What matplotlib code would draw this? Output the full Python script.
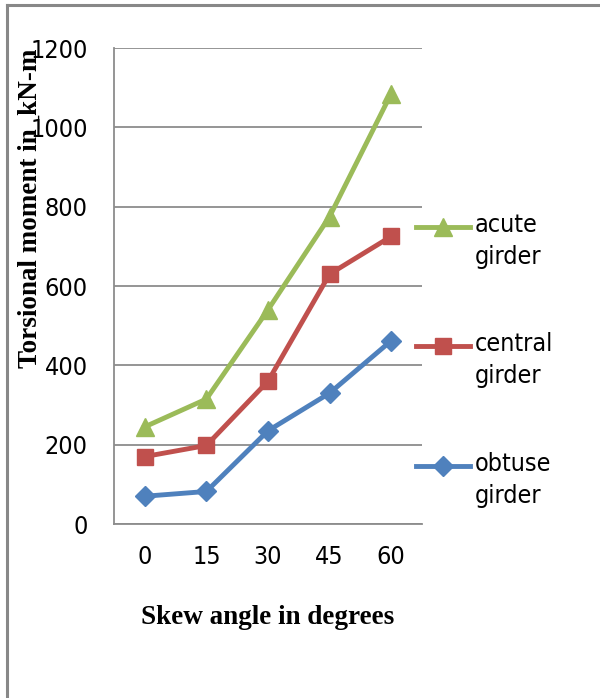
import matplotlib.pyplot as plt
import numpy as np

# skew angle categories and torsional moments (kN-m)
angles = ['0', '15', '30', '45', '60']
obtuse = [70, 82, 235, 330, 462]
central = [170, 198, 360, 630, 725]
acute = [245, 315, 540, 775, 1085]

W, H = 600, 698
fig = plt.figure(figsize=(W / 100, H / 100), dpi=100)
sans = dict(family='DejaVu Sans', stretch='condensed')

# outer frame (only top and left visible in the reference)
fig.add_artist(plt.Line2D([7 / W, 7 / W], [0, 1 - 5 / H], color='#888888', lw=2.2))
fig.add_artist(plt.Line2D([7 / W, 1], [1 - 5 / H, 1 - 5 / H], color='#888888', lw=2.2))

ax = fig.add_axes([114 / W, 1 - 524 / H, (422 - 114) / W, (524 - 48) / H])

x = np.arange(len(angles))
series = [
    ('acute\ngirder', acute, '#9BBB59', '^', 13, 227),
    ('central\ngirder', central, '#C0504D', 's', 12, 346),
    ('obtuse\ngirder', obtuse, '#4F81BD', 'D', 10, 466),
]
for label, vals, col, mk, ms, ly in series[::-1]:
    ax.plot(x, vals, color=col, lw=3.5, marker=mk, ms=ms)
    # legend entry: marker aligned with the first text line
    fig.add_artist(plt.Line2D([416 / W, 470 / W], [1 - ly / H] * 2, color=col, lw=3.5))
    fig.add_artist(plt.Line2D([443 / W], [1 - ly / H], color=col, marker=mk, ms=ms))
    fig.text(475 / W, 1 - (ly - 14) / H, label, va='top', ha='left', fontsize=18,
             linespacing=1.4, **sans)

ax.set_xlim(-0.5, len(angles) - 0.5)
ax.set_ylim(0, 1200)
ax.set_yticks(range(0, 1201, 200))
ax.set_xticks(x)
ax.set_xticklabels(angles)
ax.yaxis.grid(True, color='#8c8c8c', lw=1.3)
ax.set_axisbelow(True)
for s in ['top', 'right']:
    ax.spines[s].set_visible(False)
for s in ['left', 'bottom']:
    ax.spines[s].set_color('#8c8c8c')
    ax.spines[s].set_linewidth(1.3)
ax.tick_params(length=0, labelsize=18, pad=19)
ax.tick_params(axis='x', pad=15)
for lbl in ax.get_xticklabels() + ax.get_yticklabels():
    lbl.set_family('DejaVu Sans')
    lbl.set_stretch('condensed')

ax.set_xlabel('Skew angle in degrees', family='Liberation Serif', fontweight='bold',
              fontsize=19.5, labelpad=26)
fig.text(30 / W, 1 - 208 / H, 'Torsional moment in_kN-m', rotation=90, ha='center', va='center',
         family='Liberation Serif', fontweight='bold', fontsize=19.5)

fig.savefig('out.png', dpi=100)
